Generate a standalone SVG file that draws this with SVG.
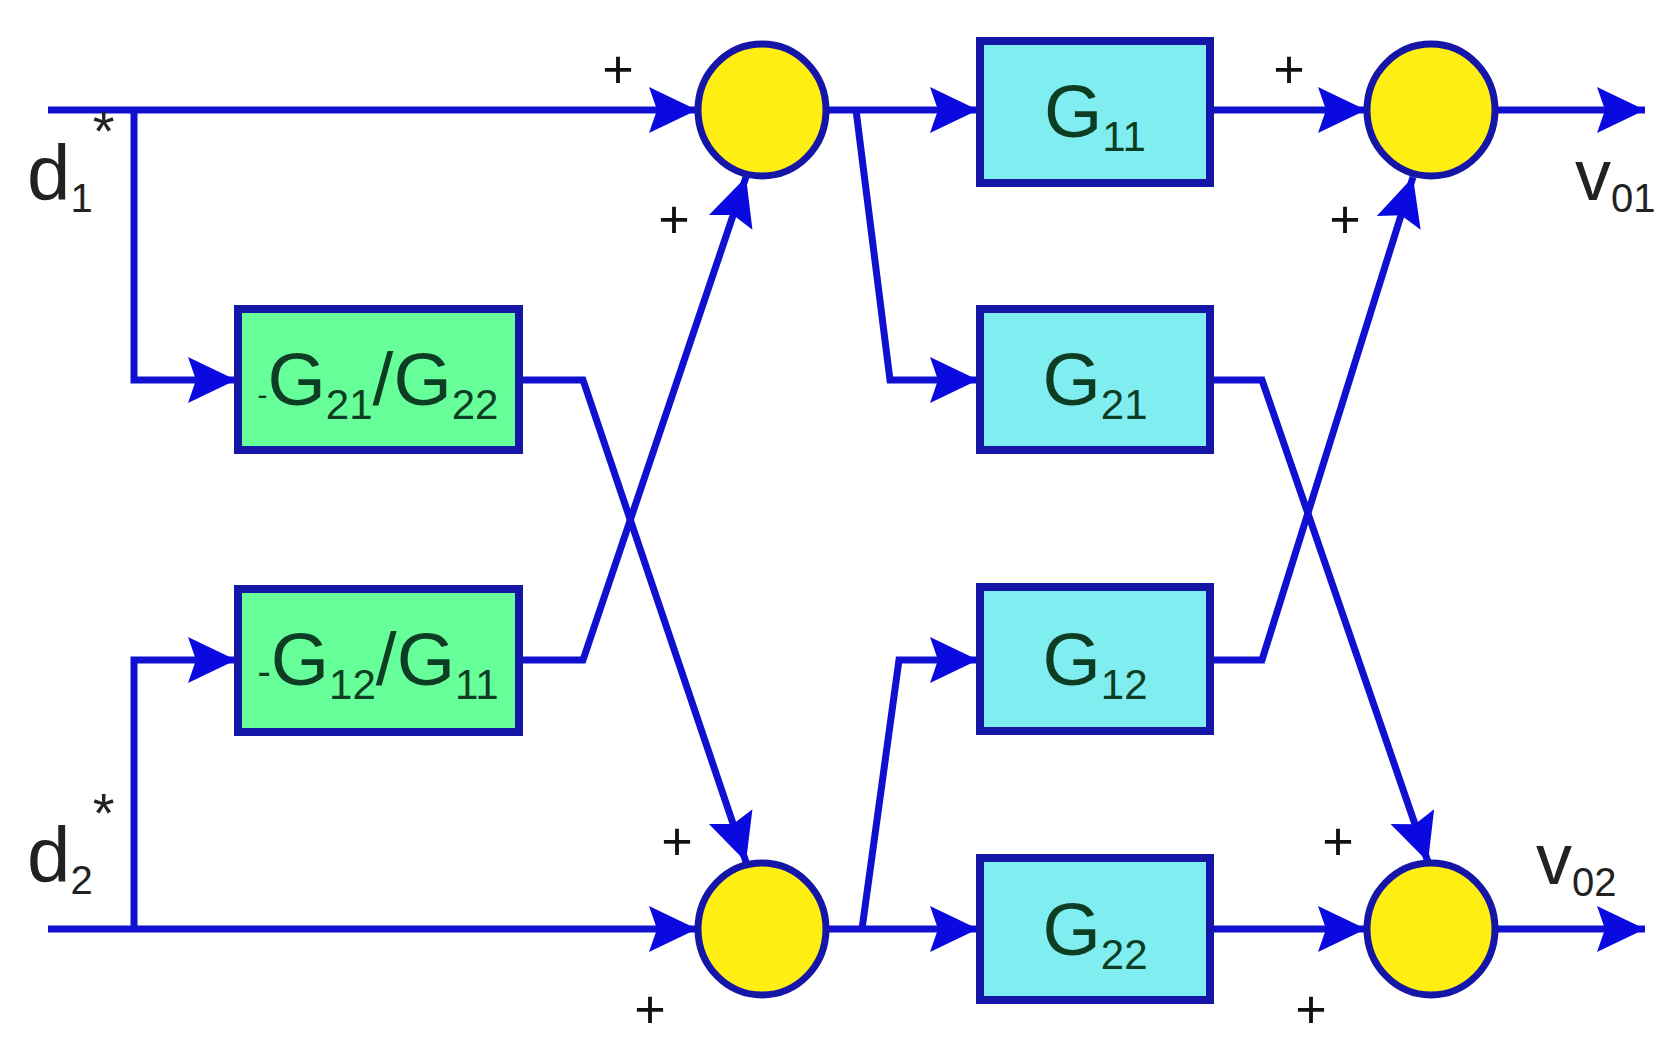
<svg xmlns="http://www.w3.org/2000/svg" width="1670" height="1056" viewBox="0 0 1670 1056">
<style>
.w{fill:none;stroke:#1010d0;stroke-width:7;stroke-linejoin:miter}
.gb{fill:#66ff99;stroke:#1515a8;stroke-width:8}
.cb{fill:#80eef0;stroke:#1515a8;stroke-width:8}
.sum{fill:#ffee11;stroke:#1515a8;stroke-width:7}
.t{font-family:"Liberation Sans",Arial,sans-serif;fill:#0d3d22}
.k{font-family:"Liberation Sans",Arial,sans-serif;fill:#222}
.p{font-family:"Liberation Sans",Arial,sans-serif;fill:#111;font-size:54px;text-anchor:middle}
</style>
<defs>
<marker id="a" markerUnits="userSpaceOnUse" markerWidth="50" markerHeight="46" refX="48" refY="23" orient="auto">
<path d="M0,0 L48,23 L0,46 L8,23 Z" fill="#0a0ae0"/>
</marker>
</defs>
<rect width="1670" height="1056" fill="#fff"/>
<g id="connectors">
<path class="w" d="M48,110 H697" marker-end="url(#a)"/>
<path class="w" d="M134,110 V380 H236" marker-end="url(#a)"/>
<path class="w" d="M48,929 H697" marker-end="url(#a)"/>
<path class="w" d="M134,929 V660 H236" marker-end="url(#a)"/>
<path class="w" d="M519,380 H583 L746,862" marker-end="url(#a)"/>
<path class="w" d="M519,660 H583 L746,177" marker-end="url(#a)"/>
<path class="w" d="M827,110 H978" marker-end="url(#a)"/>
<path class="w" d="M856,110 L890,380 H978" marker-end="url(#a)"/>
<path class="w" d="M827,929 H978" marker-end="url(#a)"/>
<path class="w" d="M862,929 L899,660 H978" marker-end="url(#a)"/>
<path class="w" d="M1210,110 H1366" marker-end="url(#a)"/>
<path class="w" d="M1210,929 H1366" marker-end="url(#a)"/>
<path class="w" d="M1210,380 H1262 L1428,862" marker-end="url(#a)"/>
<path class="w" d="M1210,660 H1262 L1413,177" marker-end="url(#a)"/>
<path class="w" d="M1496,110 H1645" marker-end="url(#a)"/>
<path class="w" d="M1496,929 H1645" marker-end="url(#a)"/>
</g>
<g id="gb1"><rect class="gb" x="238" y="309" width="281" height="141"/>
<text class="t" x="378" y="405" font-size="75" text-anchor="middle"><tspan font-size="30">-</tspan>G<tspan font-size="42" dy="14">21</tspan><tspan dy="-14">/G</tspan><tspan font-size="42" dy="14">22</tspan></text></g>
<g id="gb2"><rect class="gb" x="238" y="589" width="281" height="143"/>
<text class="t" x="378" y="685" font-size="75" text-anchor="middle"><tspan font-size="40">-</tspan>G<tspan font-size="42" dy="14">12</tspan><tspan dy="-14">/G</tspan><tspan font-size="42" dy="14">11</tspan></text></g>
<g id="g11"><rect class="cb" x="980" y="41" width="230" height="142"/><text class="t" x="1095" y="137" font-size="75" text-anchor="middle">G<tspan font-size="42" dy="14">11</tspan></text></g>
<g id="g21"><rect class="cb" x="980" y="309" width="230" height="141"/><text class="t" x="1095" y="405" font-size="75" text-anchor="middle">G<tspan font-size="42" dy="14">21</tspan></text></g>
<g id="g12"><rect class="cb" x="980" y="587" width="230" height="144"/><text class="t" x="1095" y="685" font-size="75" text-anchor="middle">G<tspan font-size="42" dy="14">12</tspan></text></g>
<g id="g22"><rect class="cb" x="980" y="858" width="230" height="142"/><text class="t" x="1095" y="955" font-size="75" text-anchor="middle">G<tspan font-size="42" dy="14">22</tspan></text></g>
<g id="s1"><ellipse class="sum" cx="762" cy="110" rx="64" ry="66"/></g>
<g id="s2"><ellipse class="sum" cx="762" cy="929" rx="64" ry="66"/></g>
<g id="s3"><ellipse class="sum" cx="1431" cy="110" rx="64" ry="66"/></g>
<g id="s4"><ellipse class="sum" cx="1431" cy="929" rx="64" ry="66"/></g>
<g id="labels">
<text class="k" x="27" y="200" font-size="78">d<tspan font-size="40" dy="12">1</tspan><tspan font-size="56" dy="-62">*</tspan></text>
<text class="k" x="27" y="882" font-size="78">d<tspan font-size="40" dy="12">2</tspan><tspan font-size="56" dy="-62">*</tspan></text>
<text class="k" x="1575" y="200" font-size="72">v<tspan font-size="40" dy="12">01</tspan></text>
<text class="k" x="1536" y="884" font-size="72">v<tspan font-size="40" dy="12">02</tspan></text>
<text class="p" x="618" y="88">+</text>
<text class="p" x="674" y="238">+</text>
<text class="p" x="677" y="860">+</text>
<text class="p" x="650" y="1028">+</text>
<text class="p" x="1289" y="88">+</text>
<text class="p" x="1345" y="238">+</text>
<text class="p" x="1338" y="860">+</text>
<text class="p" x="1311" y="1028">+</text>
</g>
</svg>
